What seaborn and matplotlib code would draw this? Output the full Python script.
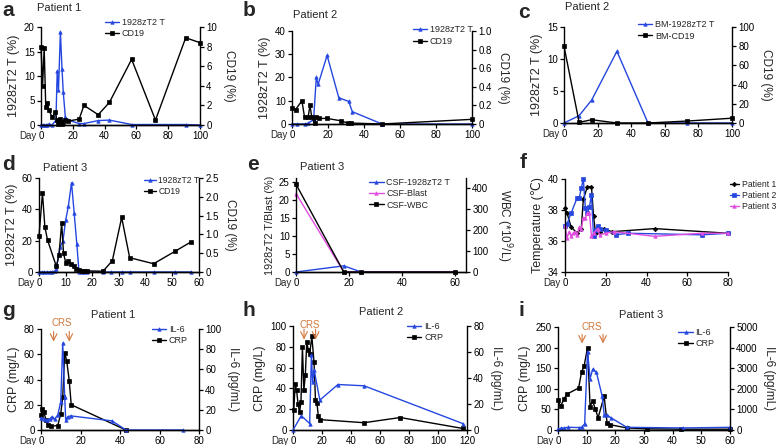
import matplotlib
matplotlib.use("Agg")
import matplotlib.pyplot as plt
import seaborn as sns

# === DATA ===
# a: Patient 1, blood
a_car_day = [0, 1, 2, 3, 4, 5, 7, 9.4, 10.2, 11, 12.2, 13.2, 14, 15.3, 17, 24, 27, 36, 43, 57, 91, 100]
a_car = [0, 0, 0, 0, 0, 0.2, 0, 1, 11, 7.2, 19, 11.5, 6.7, 1.6, 1, 0.3, 0.3, 0.9, 1.0, 0.1, 0.1, 0]
a_cd19_day = [0, 1, 2, 3, 4, 5, 7, 9, 10, 11, 12, 13, 14, 15, 17, 24, 27, 36, 43, 57, 72, 91, 100]
a_cd19 = [8.0, 4.0, 7.9, 1.8, 2.2, 1.5, 0.8, 1.3, 0.5, 0.1, 0.6, 0.1, 0.3, 0.5, 0.4, 0.6, 2.0, 1.05, 2.3, 6.7, 0.5, 8.9, 8.4]

# b: Patient 2, blood
b_car_day = [0, 3, 7, 9, 12, 13.5, 14.5, 19.5, 26, 31.5, 33.5, 50, 100]
b_car = [0, 0, 0, 0.3, 2, 20, 17, 29.5, 11.3, 9.7, 5.3, 0, 0]
b_cd19_day = [0, 2, 5.5, 7, 9, 10, 11, 12.5, 13.5, 15, 19.5, 27, 31, 33, 50, 100]
b_cd19 = [0.17, 0.155, 0.25, 0.07, 0.08, 0.2, 0.07, 0.01, 0.08, 0.06, 0.06, 0.035, 0.01, 0.01, 0, 0.05]

# c: Patient 2, bone marrow
c_day = [0, 9, 16.5, 31.5, 50, 73, 100]
c_car = [0, 1.15, 3.6, 11.2, 0, 0, 0]
c_cd19 = [80, 0.7, 3.4, 0, 0, 2, 5]

# d: Patient 3, blood
d_car_day = [0, 1, 2, 3, 4, 5, 6, 6.5, 7.5, 8, 9, 10, 11, 12.2, 13.2, 14.2, 15, 16, 17, 18, 24, 27, 31, 34, 43, 51, 57]
d_car = [0, 0, 0, 0, 0, 0.2, 0.5, 1.7, 12.4, 16, 20, 33, 42, 57, 37.5, 17.6, 0, 0, 0, 0, 0, 0, 0, 0, 0, 0, 0]
d_cd19_day = [0, 1.3, 2.2, 3.2, 6.5, 7.5, 8.5, 9.2, 10, 11, 12, 13, 14, 15, 16, 17, 18, 24, 27.5, 31, 34, 43, 51, 57]
d_cd19 = [0.95, 2.1, 1.2, 0.85, 0.15, 0.45, 1.3, 0.5, 0.25, 0.3, 0.2, 0.15, 0.08, 0.05, 0.03, 0.03, 0.03, 0.02, 0.3, 1.45, 0.38, 0.22, 0.55, 0.8]

# e: Patient 3, CSF
e_day = [0, 18, 24.5, 60]
e_car = [0, 1.7, 0, 0]
e_blast = [21.7, 0, 0, 0]
e_wbc = [420, 0, 0, 0]

# f: temperature
f_p1_day = [0, 1, 3, 6, 8, 9, 11, 13, 14, 15, 17, 19, 23, 44, 80]
f_p1 = [38.1, 37.8, 36.9, 36.5, 36.8, 38.7, 39.5, 39.5, 37.6, 36.5, 36.6, 36.8, 36.6, 36.8, 36.5]
f_p2_day = [0, 1, 3, 6, 7, 8, 9, 10, 11, 12, 13, 14, 15, 16, 17, 20, 25, 31, 67, 80]
f_p2 = [37.0, 37.1, 37.8, 38.8, 38.8, 39.4, 40.0, 38.1, 37.8, 38.2, 39.0, 36.3, 36.7, 37.0, 36.8, 36.7, 36.4, 36.5, 36.4, 36.5]
f_p3_day = [0, 1, 2, 3, 4, 5, 6, 7, 8, 9, 10, 11, 12, 13, 14, 16, 17, 20, 24, 44, 67, 80]
f_p3 = [37.0, 36.2, 36.6, 36.3, 36.5, 36.6, 36.4, 36.9, 36.8, 37.5, 37.5, 37.8, 37.8, 36.3, 36.5, 36.8, 36.4, 36.5, 36.6, 36.3, 36.5, 36.5]

# g: Patient 1 cytokines
g_il6_day = [0, 1.5, 3, 4.5, 5.5, 7, 8.5, 10, 11, 12, 12.5, 13.5, 15, 36, 43, 72]
g_il6 = [12, 11, 10, 11, 13, 11, 15, 28, 86, 33, 10, 13, 14, 9, 0, 0]
g_crp_day = [0, 0.7, 1.5, 2.5, 3.5, 5, 8.5, 10, 11, 12, 13, 14.3, 15.3, 43]
g_crp = [12, 17, 14, 8, 4, 3, 3.5, 13, 26, 61, 55, 39, 20, 0]

# h: Patient 2 cytokines
h_il6_day = [0, 5.7, 11.5, 12.7, 13.5, 14.6, 18.5, 31, 49, 117]
h_il6 = [0, 11, 5, 58, 37, 46, 23, 35, 34, 5]
h_crp_day = [0.5, 1.5, 2.5, 3.5, 4.5, 5.5, 6.5, 7.5, 8.5, 9.5, 10.5, 11.5, 13, 14.5, 15.5, 16.5, 17.5, 18.5, 49, 74, 117]
h_crp = [19, 44, 38, 25, 17, 27, 80, 38, 53, 85, 77, 73, 90, 65, 29, 26, 13, 10, 7, 12, 1.5]

# i: Patient 3 cytokines
i_il6_day = [0, 0.9, 2.1, 3.5, 7.3, 8.2, 9.3, 10.3, 11.2, 12.1, 13.4, 15.4, 16.1, 17.1, 18.4, 24, 43.7, 60]
i_il6 = [50, 80, 100, 130, 120, 130, 300, 3800, 2500, 2950, 2800, 1650, 750, 720, 600, 130, 100, 130]
i_crp_day = [0, 0.9, 2.1, 3.1, 7.2, 8.2, 9.1, 10.3, 11.2, 12.1, 13, 14, 16.1, 17.1, 18.1, 24, 31, 43, 60]
i_crp = [72, 58, 75, 87, 102, 140, 155, 200, 57, 71, 51, 30, 82, 18, 13, 5, 3, 2, 2]

# CRS windows (arrow days) for g, h, i
crs_g = [6.4, 14.3]
crs_h = [7.6, 15.6]
crs_i = [8.4, 15.7]

# === STYLE ===
W, H = 778, 445
BLUE = "#2547e0"
PINK = "#e04ee0"
BLACK = "black"
CRS_COL = "#d2773c"

sns.set_theme(style="ticks")
plt.rcParams['font.family'] = ['Liberation Sans', 'DejaVu Sans']
plt.rcParams.update({
    'axes.linewidth': 1.0,
    'xtick.major.size': 3, 'ytick.major.size': 3,
    'xtick.major.width': 0.9, 'ytick.major.width': 0.9,
    'xtick.major.pad': 1.5, 'ytick.major.pad': 1.5,
    'xtick.labelsize': 7, 'ytick.labelsize': 7,
    'axes.edgecolor': 'black', 'xtick.color': 'black', 'ytick.color': 'black',
})

fig = plt.figure(figsize=(W / 100, H / 100), dpi=100)


def new_axes(x0, y0, x1, y1):
    # box given in pixel coords of the 778x445 picture
    return fig.add_axes([x0 / W, 1 - y1 / H, (x1 - x0) / W, (y1 - y0) / H])


def draw(ax, x, y, color, marker, label, ms=2.5):
    sns.lineplot(x=x, y=y, ax=ax, color=color, marker=marker, markersize=ms,
                 markeredgecolor=color, markeredgewidth=0.5, linewidth=1.0,
                 estimator=None, sort=False, legend=False, label=label, clip_on=False)
    return ax.lines[-1]


def style_left(ax, xlim, xticks, ylim, yticks, ylabel, yticklabels=None, ysize=9):
    ax.set_xlim(xlim)
    ax.set_xticks(xticks)
    ax.set_xticklabels([str(t) for t in xticks])
    ax.set_ylim(ylim)
    ax.set_yticks(yticks)
    ax.set_yticklabels(yticklabels if yticklabels else [str(t) for t in yticks])
    ax.set_xlabel("")
    ax.set_ylabel(ylabel, fontsize=ysize, labelpad=3)
    ax.spines['top'].set_visible(False)
    ax.spines['right'].set_visible(False)
    ax.annotate("Day", xy=(0, 0), xycoords=('data', 'axes fraction'), xytext=(-3.2, -4.5),
                textcoords='offset points', ha='right', va='top', fontsize=7)


def style_right(ax2, ylim, yticks, ylabel, yticklabels=None):
    ax2.set_ylim(ylim)
    ax2.set_yticks(yticks)
    ax2.set_yticklabels(yticklabels if yticklabels else [str(t) for t in yticks])
    ax2.set_ylabel(ylabel, fontsize=8.5, rotation=270, va='bottom', labelpad=4)
    ax2.spines['top'].set_visible(False)
    ax2.spines['left'].set_visible(False)


def legend(ax, handles, x, y, size=6.5, hlen=1.6):
    ax.legend(handles, [h.get_label() for h in handles], loc='upper left', bbox_to_anchor=(x, y),
              frameon=False, fontsize=size, handlelength=hlen, handletextpad=0.3,
              borderaxespad=0, borderpad=0, labelspacing=0.25)


def crs(ax, days, y_text, y0, y1, x_text):
    ax.text(x_text, y_text, "CRS", color=CRS_COL, fontsize=7, ha='center', va='bottom', clip_on=False)
    for d in days:
        ax.annotate("", xy=(d, y1), xytext=(d, y0), annotation_clip=False,
                    arrowprops=dict(arrowstyle='->', color=CRS_COL, lw=0.8, shrinkA=0, shrinkB=0))


def label(x, y, s):
    fig.text(x / W, 1 - y / H, s, fontsize=15, fontweight='bold', ha='left', va='center')


def title(x, y, s, ha='left'):
    fig.text(x / W, 1 - y / H, s, fontsize=8, ha=ha, va='center')


# ---- a ----
ax = new_axes(41, 27, 200, 125)
ax2 = ax.twinx()
h1 = draw(ax, a_car_day, a_car, BLUE, '^', '1928zT2 T')
h2 = draw(ax2, a_cd19_day, a_cd19, BLACK, 's', 'CD19')
style_left(ax, (0, 100), [0, 20, 40, 60, 80, 100], (0, 20), [0, 5, 10, 15, 20], '1928zT2 T (%)')
style_right(ax2, (0, 10), [0, 2, 4, 6, 8, 10], 'CD19 (%)')
legend(ax2, [h1, h2], 0.40, 1.09)
label(2, 11, 'a')
title(37, 8, 'Patient 1')

# ---- b ----
ax = new_axes(292, 31, 472, 124)
ax2 = ax.twinx()
h1 = draw(ax, b_car_day, b_car, BLUE, '^', '1928zT2 T')
h2 = draw(ax2, b_cd19_day, b_cd19, BLACK, 's', 'CD19')
style_left(ax, (0, 100), [0, 20, 40, 60, 80, 100], (0, 40), [0, 10, 20, 30, 40], '1928zT2 T (%)')
style_right(ax2, (0, 1.0), [0, 0.2, 0.4, 0.6, 0.8, 1.0], 'CD19 (%)',
            ['0', '0.2', '0.4', '0.6', '0.8', '1.0'])
legend(ax2, [h1, h2], 0.67, 1.06)
label(243, 11, 'b')
title(293, 15, 'Patient 2')

# ---- c ----
ax = new_axes(564, 27, 732, 123)
ax2 = ax.twinx()
h1 = draw(ax, c_day, c_car, BLUE, '^', 'BM-1928zT2 T')
h2 = draw(ax2, c_day, c_cd19, BLACK, 's', 'BM-CD19')
style_left(ax, (0, 100), [0, 20, 40, 60, 80, 100], (0, 15), [0, 5, 10, 15], '1928zT2 T (%)')
style_right(ax2, (0, 100), [0, 20, 40, 60, 80, 100], 'CD19 (%)')
legend(ax2, [h1, h2], 0.44, 1.07)
label(518, 12, 'c')
title(565, 7, 'Patient 2')

# ---- d ----
ax = new_axes(39, 178, 199, 272)
ax2 = ax.twinx()
h1 = draw(ax, d_car_day, d_car, BLUE, '^', '1928zT2 T')
h2 = draw(ax2, d_cd19_day, d_cd19, BLACK, 's', 'CD19')
style_left(ax, (0, 60), [0, 10, 20, 30, 40, 50, 60], (0, 60), [0, 20, 40, 60], '1928zT2 T (%)')
style_right(ax2, (0, 2.5), [0, 0.5, 1.0, 1.5, 2.0, 2.5], 'CD19 (%)',
            ['0', '0.5', '1.0', '1.5', '2.0', '2.5'])
legend(ax2, [h1, h2], 0.655, 1.02, size=6.2, hlen=1.4)
label(2, 165, 'd')
title(43, 168, 'Patient 3')

# ---- e ----
ax = new_axes(296, 178, 466, 272)
ax2 = ax.twinx()
h1 = draw(ax, e_day, e_car, BLUE, '^', 'CSF-1928zT2 T')
h2 = draw(ax, e_day, e_blast, PINK, '^', 'CSF-Blast')
h3 = draw(ax2, e_day, e_wbc, BLACK, 's', 'CSF-WBC')
style_left(ax, (0, 64), [0, 20, 40, 60], (0, 26), [0, 5, 10, 15, 20, 25], '1928zT2 T/Blast (%)', ysize=7.8)
style_right(ax2, (0, 450), [0, 100, 200, 300, 400], 'WBC (*10$^9$/L)')
legend(ax2, [h1, h2, h3], 0.43, 1.0)
label(247, 165, 'e')
title(300, 167, 'Patient 3')

# ---- f ----
ax = new_axes(565, 179, 728, 272)
h1 = draw(ax, f_p1_day, f_p1, BLACK, 'D', 'Patient 1', ms=2.3)
h2 = draw(ax, f_p2_day, f_p2, BLUE, 's', 'Patient 2')
h3 = draw(ax, f_p3_day, f_p3, PINK, '^', 'Patient 3')
style_left(ax, (0, 80), [0, 20, 40, 60, 80], (34, 40), [34, 36, 38, 40], 'Temperature (℃)')
legend(ax, [h1, h2, h3], 1.01, 0.99, size=6.2, hlen=1.1)
label(520, 163, 'f')

# ---- g ----
ax = new_axes(41, 329, 199, 430)
ax2 = ax.twinx()
h1 = draw(ax2, g_il6_day, g_il6, BLUE, '^', 'IL-6')
h2 = draw(ax, g_crp_day, g_crp, BLACK, 's', 'CRP')
style_left(ax, (0, 80), [0, 20, 40, 60, 80], (0, 80), [0, 20, 40, 60, 80], 'CRP (mg/L)')
style_right(ax2, (0, 100), [0, 20, 40, 60, 80, 100], 'IL-6 (pg/mL)')
legend(ax2, [h1, h2], 0.70, 1.04)
crs(ax, crs_g, 80.5, 78, 70, 10.4)
label(2, 310, 'g')
title(113, 315, 'Patient 1', ha='center')

# ---- h ----
ax = new_axes(293, 326, 467, 430)
ax2 = ax.twinx()
h1 = draw(ax2, h_il6_day, h_il6, BLUE, '^', 'IL-6')
h2 = draw(ax, h_crp_day, h_crp, BLACK, 's', 'CRP')
style_left(ax, (0, 120), [0, 20, 40, 60, 80, 100, 120], (0, 100), [0, 20, 40, 60, 80, 100], 'CRP (mg/L)')
style_right(ax2, (0, 80), [0, 20, 40, 60, 80], 'IL-6 (pg/mL)')
legend(ax2, [h1, h2], 0.655, 1.04)
crs(ax, crs_h, 96.5, 97, 87, 11.7)
label(243, 310, 'h')
title(381, 312, 'Patient 2', ha='center')

# ---- i ----
ax = new_axes(558, 327, 730, 430)
ax2 = ax.twinx()
h1 = draw(ax2, i_il6_day, i_il6, BLUE, '^', 'IL-6')
h2 = draw(ax, i_crp_day, i_crp, BLACK, 's', 'CRP')
style_left(ax, (0, 60), [0, 10, 20, 30, 40, 50, 60], (0, 250), [0, 50, 100, 150, 200, 250], 'CRP (mg/L)')
style_right(ax2, (0, 5000), [0, 1000, 2000, 3000, 4000, 5000], 'IL-6 (pg/mL)')
legend(ax2, [h1, h2], 0.70, 0.99)
crs(ax, crs_i, 238, 232, 210, 11.9)
label(518, 310, 'i')
title(641, 315, 'Patient 3', ha='center')

fig.savefig("out.png", dpi=100)
